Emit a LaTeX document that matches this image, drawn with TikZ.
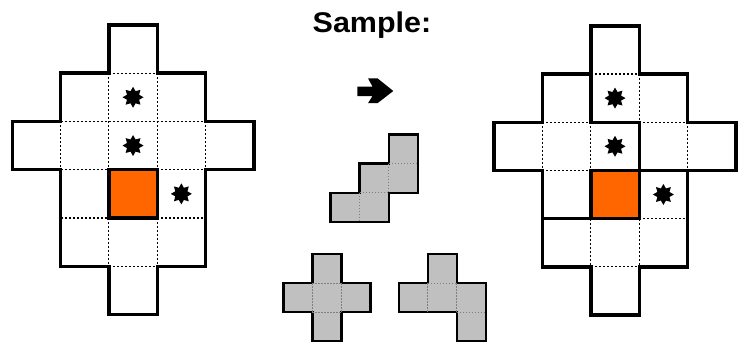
\documentclass[tikz,border=0pt]{standalone}
\usepackage{fontspec}
\usepackage{graphicx}
\setmainfont{Liberation Sans}
\usetikzlibrary{shapes.geometric}
\definecolor{cellorange}{HTML}{FF6600}
\definecolor{piecegray}{HTML}{C0C0C0}
\definecolor{seamgray}{HTML}{808080}
\tikzset{
  outline/.style={line width=3.4pt, line join=miter},
  wall/.style={line width=3.4pt, line cap=rect},
  seam/.style={line width=1.1pt, dash pattern=on 2pt off 2pt},
  pieceoutline/.style={line width=2.4pt, line join=miter, fill=piecegray},
  pieceseam/.style={line width=0.9pt, seamgray, dash pattern=on 1.5pt off 1.5pt},
  redcell/.style={line width=3.4pt, fill=cellorange},
  starmark/.style={star, star points=8, star point ratio=1.6, minimum size=21pt,
                   inner sep=0pt, fill=black, draw=none},
}
\begin{document}
\begin{tikzpicture}[x=1pt,y=-1pt]
\useasboundingbox (0,0) rectangle (744,343);
\fill[white] (0,0) rectangle (744,343);

% heading
\node[font=\bfseries\fontsize{28.5}{32}\selectfont, anchor=base, inner sep=0pt]
  (title) at (372,32.3) {\scalebox{1.07}[1]{Sample:}};

% board before
\begin{scope}[shift={(12.3,24.8)}, x=48.3pt, y=-48.3pt]
  \draw[seam] (2,1)--(3,1) (1,2)--(4,2) (1,3)--(2,3) (3,3)--(4,3)
              (1,4)--(2,4) (3,4)--(4,4) (2,5)--(3,5)
              (1,2)--(1,3) (2,1)--(2,3) (2,4)--(2,5)
              (3,1)--(3,3) (3,4)--(3,5) (4,2)--(4,3);
  \draw[redcell] (2,3) rectangle (3,4);
  \draw[outline] (2,0)--(3,0)--(3,1)--(4,1)--(4,2)--(5,2)--(5,3)--(4,3)--(4,5)
     --(3,5)--(3,6)--(2,6)--(2,5)--(1,5)--(1,3)--(0,3)--(0,2)--(1,2)--(1,1)--(2,1)--cycle;
  \node[starmark] (la) at (2.5,1.5) {};
  \node[starmark] (lb) at (2.5,2.5) {};
  \node[starmark] (lc) at (3.5,3.5) {};
\end{scope}

% arrow
\fill (357.3,86.5) -- (372.5,86.5) -- (368,78.3) -- (377.5,78.3) -- (393.3,91)
   -- (377.5,103.2) -- (368,103.2) -- (372.5,96) -- (357.3,96) -- cycle;

% piece W
\begin{scope}[shift={(330.3,134.3)}, x=29.3pt, y=-29.3pt]
  \draw[pieceoutline] (2,0)--(3,0)--(3,2)--(2,2)--(2,3)--(0,3)--(0,2)--(1,2)--(1,1)--(2,1)--cycle;
  \draw[pieceseam] (2,1)--(3,1) (2,1)--(2,2) (1,2)--(2,2) (1,2)--(1,3);
\end{scope}

% piece X
\begin{scope}[shift={(283.3,254)}, x=29pt, y=-29pt]
  \draw[pieceoutline] (1,0)--(2,0)--(2,1)--(3,1)--(3,2)--(2,2)--(2,3)--(1,3)--(1,2)--(0,2)--(0,1)--(1,1)--cycle;
  \draw[pieceseam] (1,1)--(2,1) (1,2)--(2,2) (1,1)--(1,2) (2,1)--(2,2);
\end{scope}

% piece F
\begin{scope}[shift={(398.7,254)}, x=29pt, y=-29pt]
  \draw[pieceoutline] (1,0)--(2,0)--(2,1)--(3,1)--(3,3)--(2,3)--(2,2)--(0,2)--(0,1)--(1,1)--cycle;
  \draw[pieceseam] (1,1)--(2,1) (1,1)--(1,2) (2,1)--(2,2) (2,2)--(3,2);
\end{scope}

% board after
\begin{scope}[shift={(494,25.8)}, x=48.4pt, y=-48.2pt]
  \draw[seam] (2,1)--(3,1) (1,2)--(2,2) (3,2)--(4,2) (1,3)--(2,3)
              (3,4)--(4,4) (2,5)--(3,5)
              (1,2)--(1,3) (2,2)--(2,3) (2,4)--(2,5)
              (3,1)--(3,2) (3,4)--(3,5) (4,2)--(4,3);
  \draw[redcell] (2,3) rectangle (3,4);
  \draw[wall] (2,1)--(2,2)--(3,2)--(3,4) (3,3)--(4,3) (1,4)--(2,4);
  \draw[outline] (2,0)--(3,0)--(3,1)--(4,1)--(4,2)--(5,2)--(5,3)--(4,3)--(4,5)
     --(3,5)--(3,6)--(2,6)--(2,5)--(1,5)--(1,3)--(0,3)--(0,2)--(1,2)--(1,1)--(2,1)--cycle;
  \node[starmark] (ra) at (2.5,1.5) {};
  \node[starmark] (rb) at (2.5,2.5) {};
  \node[starmark] (rc) at (3.5,3.5) {};
\end{scope}
\end{tikzpicture}
\end{document}
